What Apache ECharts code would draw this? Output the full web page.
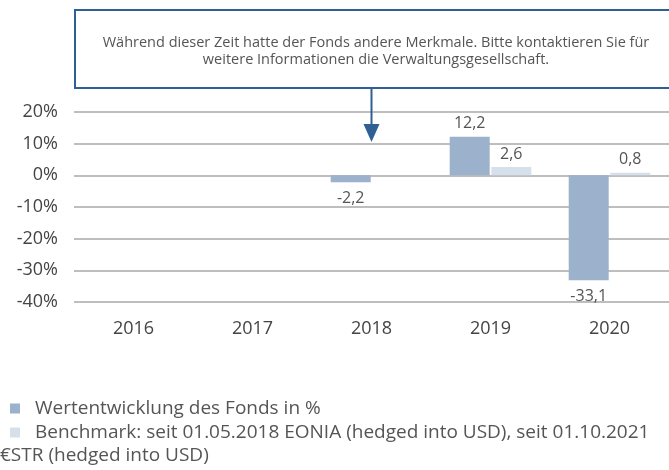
<!DOCTYPE html>
<html>
<head>
<meta charset="utf-8">
<script src="https://cdn.jsdelivr.net/npm/echarts@6/dist/echarts.min.js"></script>
<style>
  html, body { margin: 0; padding: 0; background: #fff; }
  #main { width: 669px; height: 470px; }
</style>
</head>
<body>
<div id="main"></div>
<script>
var years = ['2016', '2017', '2018', '2019', '2020'];
var fondsWerte = [null, null, -2.2, 12.2, -33.1];
var benchmarkWerte = [null, null, null, 2.6, 0.8];
var fondsName = 'Wertentwicklung des Fonds in %';
var benchmarkName = 'Benchmark: seit 01.05.2018 EONIA (hedged into USD), seit 01.10.2021 €STR (hedged into USD)';
var hinweis = 'Während dieser Zeit hatte der Fonds andere Merkmale. Bitte kontaktieren Sie für\nweitere Informationen die Verwaltungsgesellschaft.';

var font = '"Open Sans", sans-serif';
var chartDom = document.getElementById('main');
var myChart = echarts.init(chartDom);

function fmt(p) {
  return p.value == null ? '' : String(p.value).replace('.', ',');
}

var option = {
  animation: false,
  textStyle: { fontFamily: font },
  grid: { left: 74, right: -5, top: 112, bottom: 168, containLabel: false },
  legend: {
    orient: 'vertical',
    left: 10,
    top: 399,
    padding: 0,
    itemWidth: 10,
    itemHeight: 10,
    itemGap: 5,
    icon: 'rect',
    textStyle: { fontSize: 19, lineHeight: 19, color: '#555', padding: [0, 0, 0, 10] },
    formatter: function (name) {
      return name == benchmarkName ? 'Benchmark: seit 01.05.2018 EONIA (hedged into USD), seit 01.10.2021' : name;
    },
    data: [fondsName, benchmarkName]
  },
  xAxis: {
    type: 'category',
    data: years,
    axisLine: { show: false },
    axisTick: { show: false },
    axisLabel: { fontSize: 18, color: '#444', margin: 18 }
  },
  yAxis: {
    type: 'value',
    min: -40,
    max: 20,
    interval: 10,
    axisLine: { show: false },
    axisTick: { show: false },
    axisLabel: { fontSize: 18, color: '#444', margin: 16, formatter: '{value}%' },
    splitLine: { lineStyle: { color: '#a8a8a8', width: 1.5 } }
  },
  series: [
    {
      name: fondsName,
      type: 'bar',
      data: fondsWerte,
      barWidth: 40,
      barGap: '4%',
      itemStyle: { color: '#9bb1cc' },
      label: { show: true, position: 'top', fontSize: 16, color: '#555', formatter: fmt }
    },
    {
      name: benchmarkName,
      type: 'bar',
      data: benchmarkWerte,
      barWidth: 40,
      itemStyle: { color: '#d6e0eb' },
      label: { show: true, position: 'top', fontSize: 16, color: '#555', formatter: fmt }
    }
  ]
};

// negative Werte: Label unter dem Balken
option.series[0].data = fondsWerte.map(function (v) {
  if (v == null) return null;
  return { value: v, label: v < 0 ? { position: 'bottom', distance: 8 } : { position: 'top' } };
});

myChart.setOption(option);

var pfeilX = myChart.convertToPixel({ xAxisIndex: 0 }, '2018');
var blau = '#2f5f93';
myChart.setOption({
  graphic: [
    {
      type: 'rect',
      shape: { x: 75, y: 10, width: 610, height: 78 },
      style: { fill: '#fff', stroke: blau, lineWidth: 2 }
    },
    {
      type: 'text',
      x: 376,
      y: 51,
      style: {
        text: hinweis,
        fontSize: 14.5,
        lineHeight: 17,
        fill: '#555',
        align: 'center',
        verticalAlign: 'middle',
        fontFamily: font
      }
    },
    {
      type: 'line',
      shape: { x1: pfeilX, y1: 88, x2: pfeilX, y2: 126 },
      style: { stroke: blau, lineWidth: 2 }
    },
    {
      type: 'polygon',
      shape: { points: [[pfeilX - 8, 124], [pfeilX + 8, 124], [pfeilX, 142]] },
      style: { fill: blau }
    },
    {
      type: 'text',
      x: 0,
      y: 456,
      style: { text: '€STR (hedged into USD)', fontSize: 19, fill: '#555', verticalAlign: 'middle', fontFamily: font }
    }
  ]
});
</script>
</body>
</html>
